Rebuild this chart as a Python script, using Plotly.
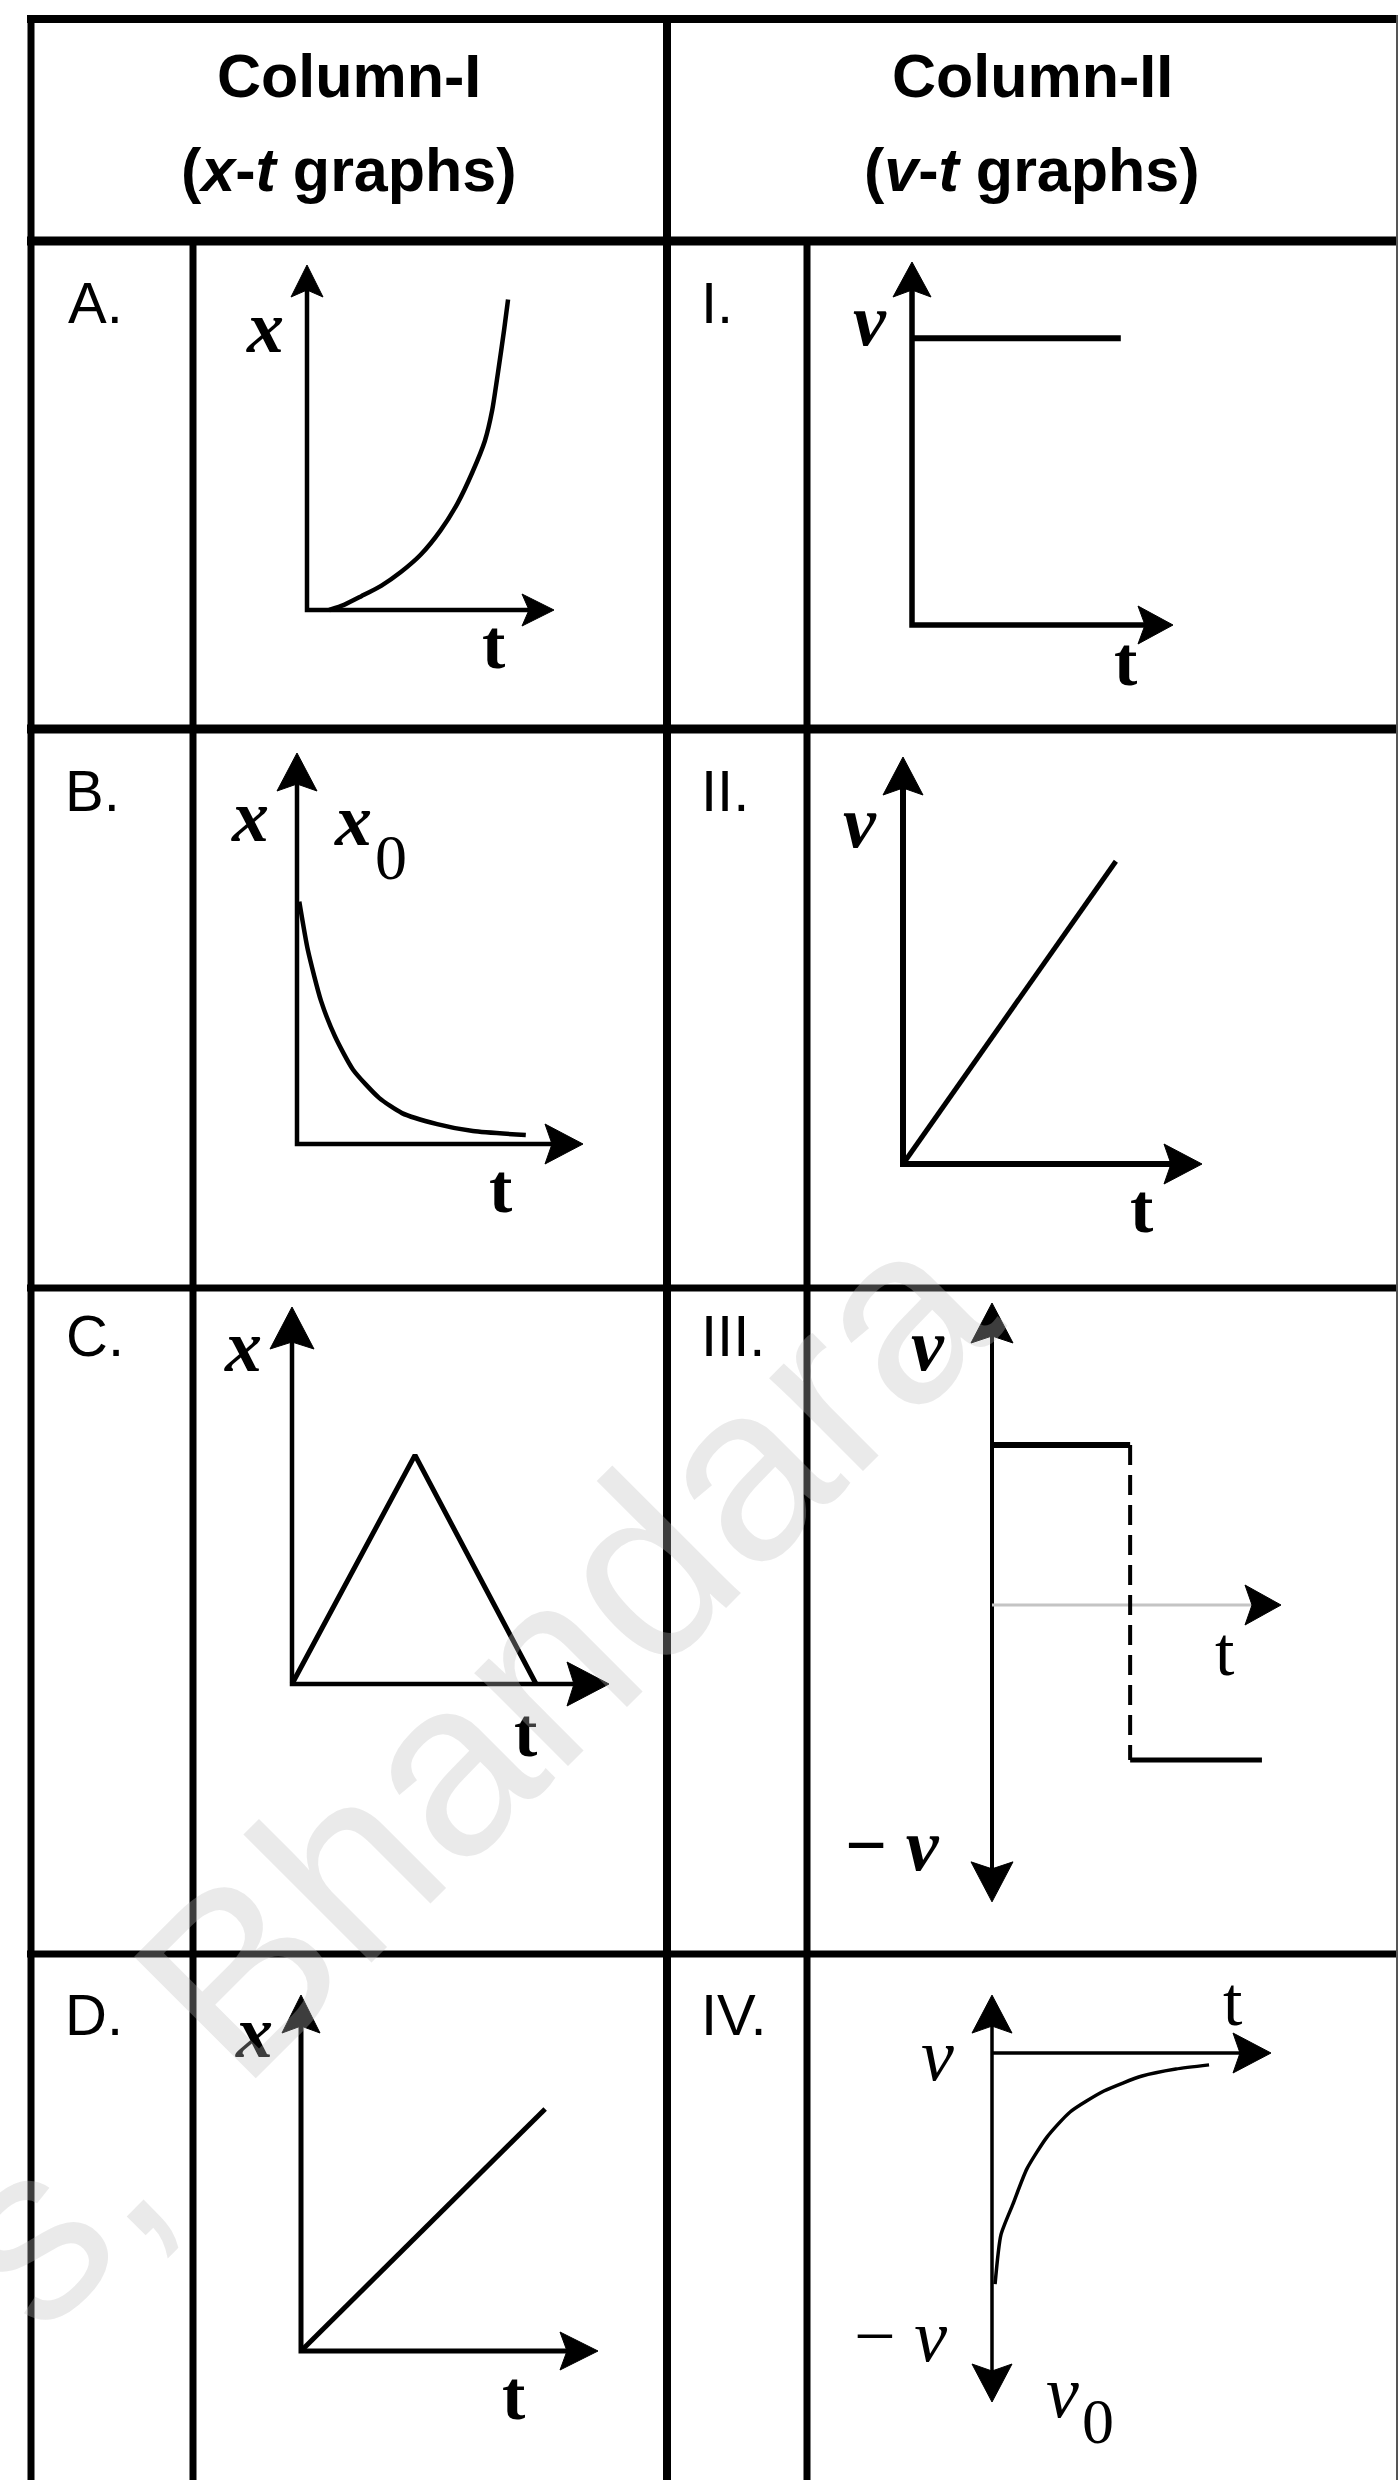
import plotly.graph_objects as go

W, H = 1399, 2480

# ---------------- data (schematic values; 1 unit = length of each axis arrow) ----------------
header_titles = ["Column-I", "Column-II"]
header_subtitles = ["(<i>x</i>-<i>t</i> graphs)", "(<i>v</i>-<i>t</i> graphs)"]
row_labels_left = ["A.", "B.", "C.", "D."]
row_labels_right = ["I.", "II.", "III.", "IV."]

# Column-I : x-t graphs
A_t = [0.09, 0.15, 0.22, 0.30, 0.38, 0.46, 0.54, 0.61, 0.67, 0.72, 0.75, 0.773, 0.798, 0.814]
A_x = [0.0, 0.015, 0.04, 0.07, 0.11, 0.16, 0.23, 0.31, 0.40, 0.49, 0.58, 0.687, 0.812, 0.90]

B_t = [0.008, 0.038, 0.084, 0.133, 0.196, 0.287, 0.367, 0.49, 0.615, 0.80]
B_x = [0.62, 0.496, 0.366, 0.275, 0.19, 0.118, 0.079, 0.051, 0.033, 0.023]

C_t = [0.0, 0.388, 0.77]
C_x = [0.0, 0.607, 0.0]

D_t = [0.0, 0.822]
D_x = [0.0, 0.68]

# Column-II : v-t graphs
I_t = [0.0, 0.80]
I_v = [0.79, 0.79]

II_t = [0.0, 0.712]
II_v = [0.0, 0.744]

III_t_hi = [0.0, 0.478]
III_v_hi = [0.53, 0.53]
III_t_jump = [0.478, 0.478]
III_v_jump = [0.53, -0.513]
III_t_lo = [0.478, 0.934]
III_v_lo = [-0.513, -0.513]

IV_t = [0.011, 0.032, 0.075, 0.125, 0.197, 0.280, 0.401, 0.538, 0.659, 0.778]
IV_v = [-0.662, -0.521, -0.433, -0.332, -0.241, -0.169, -0.109, -0.066, -0.046, -0.034]

watermark_parts = ["s,", "Bhandara"]

# ---------------- geometry / style ----------------
COL_X = [31, 193, 667, 807, 1397]
ROW_Y = [19, 241, 729, 1288, 1954, 2480]

fig = go.Figure()
axis_count = [0]


def add_panel(cell, origin, unit):
    axis_count[0] += 1
    idx = axis_count[0]
    sfx = "" if idx == 1 else str(idx)
    cx0, cx1, cy0, cy1 = cell
    ox, oy = origin
    kx, ky = unit
    fig.layout["xaxis" + sfx] = dict(
        domain=[cx0 / W, cx1 / W], range=[(cx0 - ox) / kx, (cx1 - ox) / kx],
        visible=False, fixedrange=True, anchor="y" + sfx)
    fig.layout["yaxis" + sfx] = dict(
        domain=[1 - cy1 / H, 1 - cy0 / H], range=[(oy - cy1) / ky, (oy - cy0) / ky],
        visible=False, fixedrange=True, anchor="x" + sfx)
    return ("x" + sfx, "y" + sfx, kx, ky)


def line(ax, xs, ys, width, color="black", dash=None, shape="linear"):
    fig.add_trace(go.Scatter(
        x=xs, y=ys, xaxis=ax[0], yaxis=ax[1], mode="lines",
        line=dict(color=color, width=width, dash=dash, shape=shape, smoothing=0.6),
        hoverinfo="skip", showlegend=False))


def arrowhead(ax, tip, direction, L, hw, notch=7):
    kx, ky = ax[2], ax[3]
    ux, uy = direction
    nx, ny = -uy, ux
    pts = [(0, 0),
           (-L * ux + hw * nx, -L * uy + hw * ny),
           (-(L - notch) * ux, -(L - notch) * uy),
           (-L * ux - hw * nx, -L * uy - hw * ny),
           (0, 0)]
    xs = [tip[0] + a / kx for a, b in pts]
    ys = [tip[1] + b / ky for a, b in pts]
    fig.add_trace(go.Scatter(
        x=xs, y=ys, xaxis=ax[0], yaxis=ax[1], mode="lines", fill="toself",
        fillcolor="black", line=dict(color="black", width=1),
        hoverinfo="skip", showlegend=False))


def l_axes(ax, ytop, L, hw, width, color="black"):
    kx, ky = ax[2], ax[3]
    back = (L - 9)
    line(ax, [0, 0, 1 - back / kx], [ytop - back / ky, 0, 0], width, color)
    arrowhead(ax, (0, ytop), (0, 1), L, hw)
    arrowhead(ax, (1, 0), (1, 0), L, hw)


# ---- Column-I panels ----
axA = add_panel((COL_X[1], COL_X[2], ROW_Y[1], ROW_Y[2]), (307, 610), (247, 345))
l_axes(axA, 1.0, 32, 16, 4.5)
line(axA, A_t, A_x, 4.5, shape="spline")

axB = add_panel((COL_X[1], COL_X[2], ROW_Y[2], ROW_Y[3]), (297, 1144), (286, 391))
l_axes(axB, 1.0, 38, 20, 4.5)
line(axB, B_t, B_x, 4.5, shape="spline")

axC = add_panel((COL_X[1], COL_X[2], ROW_Y[3], ROW_Y[4]), (292, 1684), (317, 377))
l_axes(axC, 1.0, 42, 22, 4.5)
line(axC, C_t, C_x, 5)

axD = add_panel((COL_X[1], COL_X[2], ROW_Y[4], ROW_Y[5]), (301, 2351), (297, 356))
l_axes(axD, 1.0, 38, 19, 5)
line(axD, D_t, D_x, 5)

# ---- Column-II panels ----
axI = add_panel((COL_X[3], COL_X[4], ROW_Y[1], ROW_Y[2]), (912, 625), (261, 363))
l_axes(axI, 1.0, 35, 19, 5.5)
line(axI, I_t, I_v, 6)

axII = add_panel((COL_X[3], COL_X[4], ROW_Y[2], ROW_Y[3]), (903, 1164), (299, 407))
l_axes(axII, 1.0, 38, 20, 6)
line(axII, II_t, II_v, 5)

axIII = add_panel((COL_X[3], COL_X[4], ROW_Y[3], ROW_Y[4]), (992, 1605), (289, 302))
k3x, k3y = axIII[2], axIII[3]
line(axIII, [0, 0], [-0.983 + 31 / k3y, 1.0 - 31 / k3y], 4)
arrowhead(axIII, (0, 1.0), (0, 1), 40, 21)
arrowhead(axIII, (0, -0.983), (0, -1), 40, 21)
line(axIII, [0, 1 - 28 / k3x], [0, 0], 3, color="#c4c4c4")
arrowhead(axIII, (1, 0), (1, 0), 36, 20)
line(axIII, III_t_hi, III_v_hi, 6)
line(axIII, III_t_jump, III_v_jump, 4, dash="20px,10px")
line(axIII, III_t_lo, III_v_lo, 5)

axIV = add_panel((COL_X[3], COL_X[4], ROW_Y[4], ROW_Y[5]), (992, 2053), (279, 349))
k4x, k4y = axIV[2], axIV[3]
line(axIV, [0, 0], [-1.0 + 29 / k4y, 0.166 - 29 / k4y], 3.5)
arrowhead(axIV, (0, 0.166), (0, 1), 38, 20)
arrowhead(axIV, (0, -1.0), (0, -1), 38, 20)
line(axIV, [0, 1 - 30 / k4x], [0, 0], 3.5)
arrowhead(axIV, (1, 0), (1, 0), 38, 20)
line(axIV, IV_t, IV_v, 3.5, shape="spline")

# ---------------- table grid ----------------
shapes = []


def hline(y, w, x0=27, x1=1397, color="black"):
    shapes.append(dict(type="line", xref="paper", yref="paper", x0=x0 / W, x1=x1 / W,
                       y0=1 - y / H, y1=1 - y / H, line=dict(color=color, width=w)))


def vline(x, w, y0, y1=2480, color="black"):
    shapes.append(dict(type="line", xref="paper", yref="paper", x0=x / W, x1=x / W,
                       y0=1 - y0 / H, y1=1 - y1 / H, line=dict(color=color, width=w)))


hline(ROW_Y[0], 8)
hline(ROW_Y[1], 9)
hline(ROW_Y[2], 9)
hline(ROW_Y[3], 7)
hline(ROW_Y[4], 7)
vline(COL_X[0], 7, 15)
vline(COL_X[1], 7, ROW_Y[1])
vline(COL_X[2], 8, 15)
vline(COL_X[3], 7, ROW_Y[1])
vline(COL_X[4], 2, 15, color="#555555")
fig.update_layout(shapes=shapes)

# ---------------- text ----------------
ann = []


def text(t, px, py, size, family="Liberation Sans", xanchor="center", color="black", angle=0):
    ann.append(dict(text=t, x=px / W, y=1 - py / H, xref="paper", yref="paper",
                    xanchor=xanchor, yanchor="middle", showarrow=False, textangle=angle,
                    font=dict(size=size, family=family, color=color)))


left_c = (COL_X[0] + COL_X[2]) / 2
right_c = (COL_X[2] + COL_X[4]) / 2
text("<b>%s</b>" % header_titles[0], left_c, 76, 61)
text("<b>%s</b>" % header_titles[1], right_c, 76, 61)
text("<b>%s</b>" % header_subtitles[0], left_c, 170, 61)
text("<b>%s</b>" % header_subtitles[1], right_c, 170, 61)

lab_y = [302, 790, 1335, 2014]
for lab, y, x in zip(row_labels_left, lab_y, [66, 63, 64, 63]):
    text(lab, x, y, 58, xanchor="left")
for lab, y in zip(row_labels_right, lab_y):
    text(lab, 699, y, 58, xanchor="left")

SERIF = "Liberation Serif"
BI = "<b><i>%s</i></b>"
# A
text(BI % "x", 265, 327, 74, SERIF)
text("<b>t</b>", 493, 644, 70, SERIF)
# B
text(BI % "x", 250, 816, 74, SERIF)
text(BI % "x", 353, 820, 74, SERIF)
text("0", 391, 857, 64, SERIF)
text("<b>t</b>", 501, 1188, 70, SERIF)
# C
text(BI % "x", 243, 1346, 74, SERIF)
text("<b>t</b>", 525, 1733, 70, SERIF)
# D
text(BI % "x", 254, 2032, 74, SERIF)
text("<b>t</b>", 513, 2395, 70, SERIF)
# I
text(BI % "v", 870, 320, 74, SERIF)
text("<b>t</b>", 1125, 661, 70, SERIF)
# II
text(BI % "v", 860, 822, 74, SERIF)
text("<b>t</b>", 1141, 1208, 70, SERIF)
# III
text(BI % "v", 928, 1345, 74, SERIF)
text("<b>− <i>v</i></b>", 892, 1845, 74, SERIF)
text("t", 1225, 1651, 70, SERIF)
# IV
text("<i>v</i>", 937, 2055, 74, SERIF)
text("− <i>v</i>", 900, 2336, 74, SERIF)
text("<i>v</i>", 1062, 2392, 74, SERIF)
text("0", 1098, 2421, 64, SERIF)
text("t", 1233, 2001, 70, SERIF)

# watermark (semi-transparent, drawn over everything)
WM = "rgba(190,190,190,0.32)"
text(watermark_parts[0], 48, 2210, 250, "Liberation Sans", color=WM, angle=-45)
text(watermark_parts[1], 563, 1648, 250, "Liberation Sans", color=WM, angle=-45)

fig.update_layout(
    annotations=ann,
    width=W, height=H,
    margin=dict(l=0, r=0, t=0, b=0),
    paper_bgcolor="white", plot_bgcolor="rgba(0,0,0,0)",
    showlegend=False,
)

fig.write_html(
    "out.html",
    config={"displayModeBar": False},
    post_script="document.body.style.margin='0px';document.body.style.padding='0px';"
                "document.body.style.overflow='hidden';",
)
